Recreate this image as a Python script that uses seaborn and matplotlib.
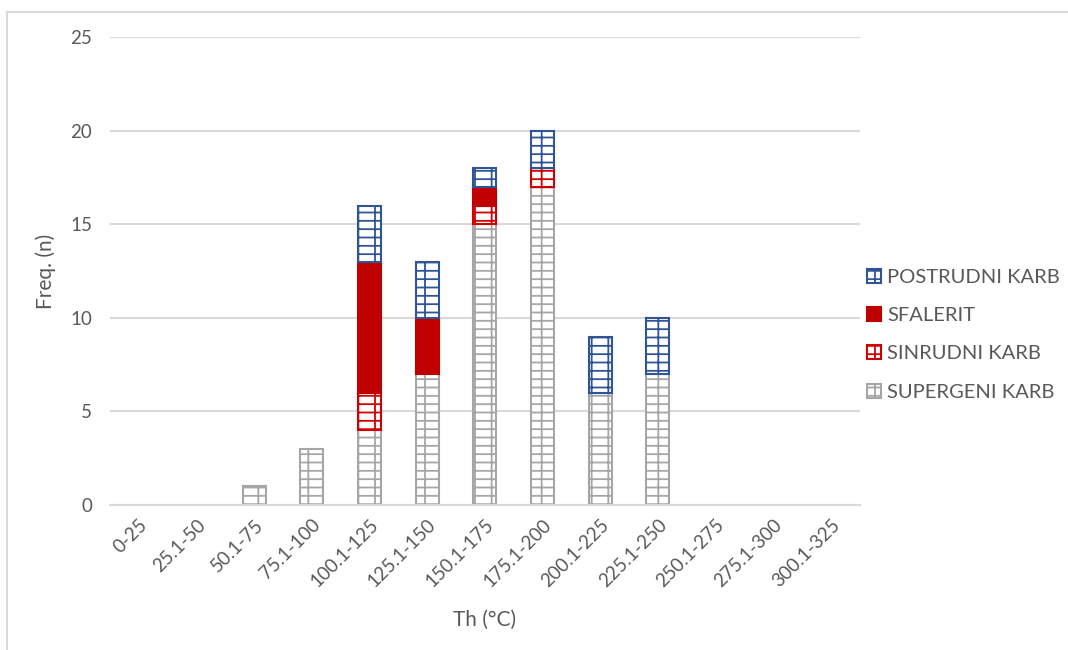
import pandas as pd
import matplotlib
matplotlib.use("Agg")
import matplotlib.pyplot as plt
import matplotlib.patches as mpatches
from matplotlib.lines import Line2D
import seaborn as sns

# Temperature classes and counts per carbonate type
categories = ["0-25", "25.1-50", "50.1-75", "75.1-100", "100.1-125", "125.1-150",
              "150.1-175", "175.1-200", "200.1-225", "225.1-250", "250.1-275",
              "275.1-300", "300.1-325"]
supergeni = [0, 0, 1, 3, 4, 7, 15, 17, 6, 7, 0, 0, 0]
sinrudni = [0, 0, 0, 0, 2, 0, 1, 1, 0, 0, 0, 0, 0]
sfalerit = [0, 0, 0, 0, 7, 3, 1, 0, 0, 0, 0, 0, 0]
postrudni = [0, 0, 0, 0, 3, 3, 1, 2, 3, 3, 0, 0, 0]

series_names = ["SUPERGENI KARB", "SINRUDNI KARB", "SFALERIT", "POSTRUDNI KARB"]
series_values = [supergeni, sinrudni, sfalerit, postrudni]

GRAY = "#A6A6A6"
RED = "#C00000"
BLUE = "#2F5597"
TEXT = "#595959"
GRID = "#D9D9D9"

styles = {
    "SUPERGENI KARB": dict(face="white", edge=GRAY, hatch="--|"),
    "SINRUDNI KARB": dict(face="white", edge="#D00000", hatch="--|"),
    "SFALERIT": dict(face=RED, edge=RED, hatch=None),
    "POSTRUDNI KARB": dict(face="white", edge=BLUE, hatch="--|"),
}

sns.set_style("white")
plt.rcParams["font.family"] = ["Lato", "DejaVu Sans"]
plt.rcParams["hatch.linewidth"] = 1.3

df = pd.DataFrame({"cat": categories})
for name, vals in zip(series_names, series_values):
    df[name] = vals

fig = plt.figure(figsize=(10.68, 6.5), dpi=100)
ax = fig.add_axes([0.103, 0.223, 0.702, 0.720])

bottom = [0] * len(categories)
for name in series_names:
    st = styles[name]
    sns.barplot(data=df, x="cat", y=name, order=categories, ax=ax, width=0.4,
                color=st["face"], saturation=1, bottom=bottom,
                edgecolor=st["edge"], linewidth=1.5, hatch=st["hatch"])
    bottom = [b + v for b, v in zip(bottom, df[name])]

# hide zero-height segments so no stray outlines appear
for p in ax.patches:
    if p.get_height() == 0:
        p.set_visible(False)

ax.set_ylim(0, 25)
ax.set_xlim(-0.5, len(categories) - 0.5)
ax.set_yticks([0, 5, 10, 15, 20, 25])
ax.yaxis.grid(True, color=GRID, linewidth=1.5)
ax.set_axisbelow(True)
for s in ["left", "right", "top"]:
    ax.spines[s].set_visible(False)
ax.spines["bottom"].set_color(GRID)
ax.spines["bottom"].set_linewidth(1.5)
ax.tick_params(axis="both", length=0, colors=TEXT, labelsize=13.5)
ax.tick_params(axis="y", pad=13)
ax.tick_params(axis="x", pad=8)
plt.setp(ax.get_xticklabels(), rotation=45, ha="right", va="top",
         rotation_mode="anchor")
ax.set_xlabel("Th (°C)", color=TEXT, fontsize=15, labelpad=14)
ax.set_ylabel("Freq. (n)", color=TEXT, fontsize=15, labelpad=10)

# legend in reverse stacking order
handles = []
for name in reversed(series_names):
    st = styles[name]
    handles.append(mpatches.Patch(facecolor=st["face"], edgecolor=st["edge"],
                                  hatch=st["hatch"], linewidth=1.5, label=name))
fig.legend(handles=handles, loc="center left", bbox_to_anchor=(0.795, 0.485),
           frameon=False, fontsize=14.5, labelcolor=TEXT, labelspacing=1.05,
           handlelength=0.7, handleheight=0.7, handletextpad=0.3)

# outer chart frame (clipped at right and bottom)
fig.add_artist(Line2D([0.0066, 0.0066], [0, 0.9815], color=GRID, linewidth=1.5,
                      transform=fig.transFigure))
fig.add_artist(Line2D([0.0066, 1.0], [0.9815, 0.9815], color=GRID, linewidth=1.5,
                      transform=fig.transFigure))

fig.savefig("out.png", dpi=100)
